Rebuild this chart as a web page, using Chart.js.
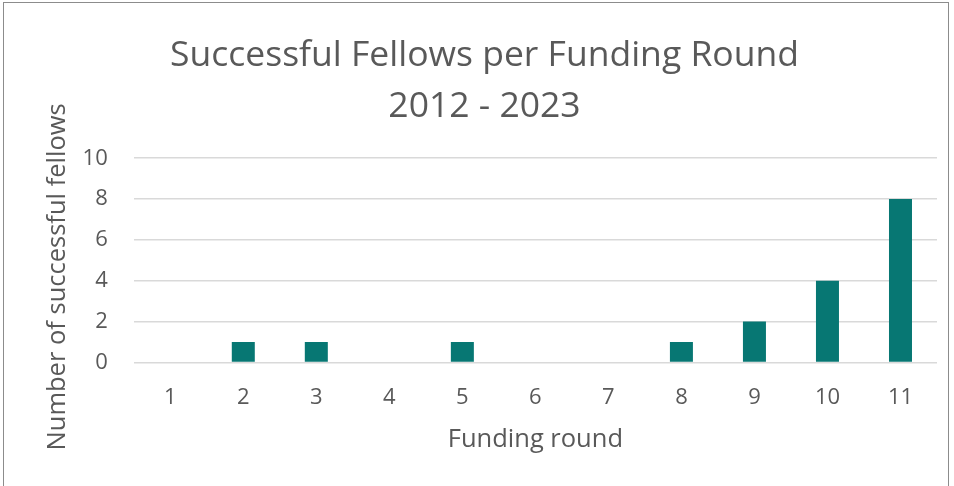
<!DOCTYPE html>
<html>
<head>
<meta charset="utf-8">
<script src="https://cdn.jsdelivr.net/npm/chart.js@4/dist/chart.umd.min.js"></script>
<style>
  body { margin: 0; background: #fff; }
  #frame {
    position: absolute; left: 3px; top: 2px;
    width: 946px; height: 500px;
    border: 1px solid #8c8c8c;
    box-sizing: border-box;
  }
  #wrap { position: absolute; left: 0; top: 0; width: 954px; height: 486px; }
</style>
</head>
<body>
<div id="frame"></div>
<div id="wrap"><canvas id="chart"></canvas></div>
<script>
'use strict';

// chart data
let rounds = ['1', '2', '3', '4', '5', '6', '7', '8', '9', '10', '11'];
let fellows = [0, 1, 1, 0, 1, 0, 0, 1, 2, 4, 8];
let titleLines = ['Successful Fellows per Funding Round', '2012 - 2023'];

let textGray = '#595959';
let fontName = '"Open Sans", "Noto Sans", sans-serif';

let canvasElem = document.getElementById('chart');

// tick length is used as label spacing (padding gets counted twice in fit)
let chartObj = {
  type: 'bar',
  data: {
    labels: rounds,
    datasets: [{
      label: 'Successful fellows',
      data: fellows,
      backgroundColor: '#077773',
      categoryPercentage: 1,
      barPercentage: 0.315
    }]
  },
  options: {
    responsive: true,
    maintainAspectRatio: false,
    animation: false,
    layout: {
      padding: { left: 32, right: 17, top: 30, bottom: 31 }
    },
    plugins: {
      legend: { display: false },
      tooltip: { enabled: false },
      title: {
        display: true,
        text: titleLines,
        color: textGray,
        font: { family: fontName, size: 35.5, weight: 'normal', lineHeight: 1.44 },
        padding: { top: 0, bottom: 26 }
      }
    },
    scales: {
      x: {
        grid: { display: false, drawTicks: true, tickLength: 22 },
        border: { display: false },
        ticks: {
          color: textGray,
          padding: 0,
          font: { family: fontName, size: 22 }
        },
        title: {
          display: true,
          text: 'Funding round',
          color: textGray,
          font: { family: fontName, size: 25.5, lineHeight: 1.2 },
          padding: { top: 13.6, bottom: 0 }
        }
      },
      y: {
        min: 0,
        max: 10,
        ticks: {
          stepSize: 2,
          color: textGray,
          padding: 0,
          font: { family: fontName, size: 22 }
        },
        grid: {
          color: '#d9d9d9',
          lineWidth: 1.5,
          drawTicks: true,
          tickLength: 26,
          tickColor: 'rgba(0,0,0,0)'
        },
        border: { display: false },
        title: {
          display: true,
          // trailing spaces push the centred title a bit lower, like the original
          text: 'Number of successful fellows\u00a0\u00a0\u00a0\u00a0\u00a0',
          color: textGray,
          font: { family: fontName, size: 25.5, lineHeight: 1.2 },
          padding: { top: 10, bottom: 10 }
        }
      }
    }
  }
};

new Chart(canvasElem, chartObj);
</script>
</body>
</html>
